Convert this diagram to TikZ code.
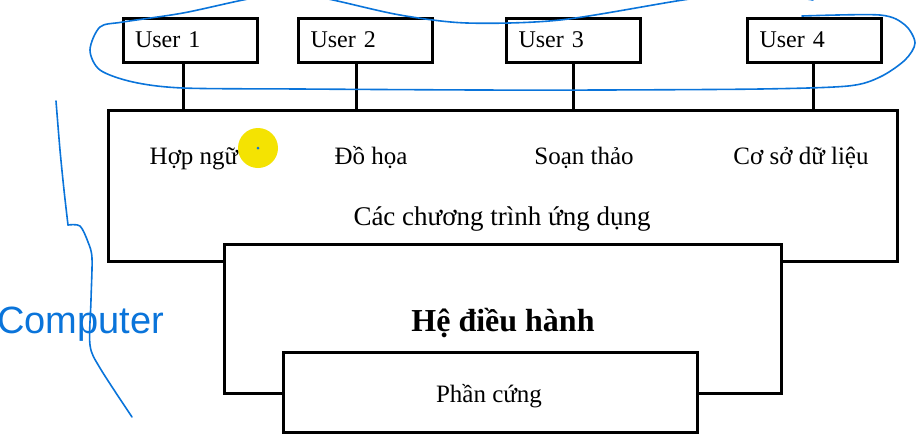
\documentclass[tikz,border=0pt]{standalone}
\usepackage{fontspec}
\setmainfont{Liberation Serif}
\newfontfamily\handfont{Liberation Sans}
\usepackage{tikz}
\usetikzlibrary{positioning}
\definecolor{ink}{HTML}{0A74DA}
\definecolor{marker}{HTML}{F4E302}

\begin{document}
\begin{tikzpicture}[x=0.5pt,y=-0.5pt,
      userbox/.style={draw,line width=1.5pt,minimum height=22pt,text width=55pt,inner xsep=6pt,align=left,font=\fontsize{12}{14}\selectfont},
      layer/.style={draw,line width=1.5pt,fill=white,inner sep=0pt},
      apptext/.style={anchor=base,font=\fontsize{12.5}{15}\selectfont},
      link/.style={line width=1.5pt},
      pen/.style={draw=ink,line width=0.8pt,line cap=round,line join=round}]
      \useasboundingbox (0,0) rectangle (923,447);
      % users on top
      \node[userbox] (u1) at (190,40) {User 1};
      \node[userbox] (u2) at (365.5,40) {User 2};
      \node[userbox] (u3) at (573.5,40) {User 3};
      \node[userbox] (u4) at (814.5,40) {User 4};
      % three layers
      \node[layer,minimum width=394.5pt,minimum height=75.5pt] (app) at (502.5,185.5) {};
      \node[apptext] (asm) at (194,164) {Hợp ngữ};
      \node[apptext] (gfx) at (371,164) {Đồ họa};
      \node[apptext] (edit) at (584,164) {Soạn thảo};
      \node[apptext] (db) at (801,164) {Cơ sở dữ liệu};
      \node[apptext,font=\fontsize{13.5}{16}\selectfont] (apps) at (502,225) {Các chương trình ứng dụng};
      \node[layer,minimum width=278.5pt,minimum height=74.5pt] (os) at (502.5,318.5) {};
      \node[anchor=base,font=\bfseries\fontsize{16}{19}\selectfont] (oslabel) at (503,331) {Hệ điều hành};
      \node[layer,minimum width=207pt,minimum height=40pt] (hw) at (490,392) {};
      \node[apptext] (hwlabel) at (489,402) {Phần cứng};
      \draw[link] ([xshift=-3.5pt]u1.south) -- ([xshift=-3.5pt]u1.south |- app.north);
      \draw[link] ([xshift=-4.5pt]u2.south) -- ([xshift=-4.5pt]u2.south |- app.north);
      \draw[link] (u3.south) -- (u3.south |- app.north);
      \draw[link] ([xshift=-0.5pt]u4.south) -- ([xshift=-0.5pt]u4.south |- app.north);
      % pen marks
      \fill[marker] (258,148) circle (20);
      \fill[ink] (258,148) circle (1.5);
      \begin{scope}
        \clip (0,0) rectangle (923,447);
        \draw[pen] plot[smooth] coordinates {(802,16) (880,15) (905,25) (915,43) (905,60) (880,77) (848,86) (760,89) (600,90) (480,90) (300,89) (183,88) (133,82) (100,70) (90,50) (100,27) (123,22) (183,13) (243,0) (290,-8) (333,0) (400,15) (467,23) (560,20) (683,0) (750,-8) (813,0)};
        \draw[pen] plot[smooth] coordinates {(56,101) (60,150) (64,190) (68,225)};
        \draw[pen] plot[smooth] coordinates {(68,225) (80,226) (88,242) (92,258) (91,300) (90,345) (100,368) (132,417)};
      \end{scope}
      \node[text=ink,font=\handfont\fontsize{19}{23}\selectfont,anchor=base west,inner sep=0pt] (hand) at (-3,333) {Computer};
    \end{tikzpicture}
\end{document}
